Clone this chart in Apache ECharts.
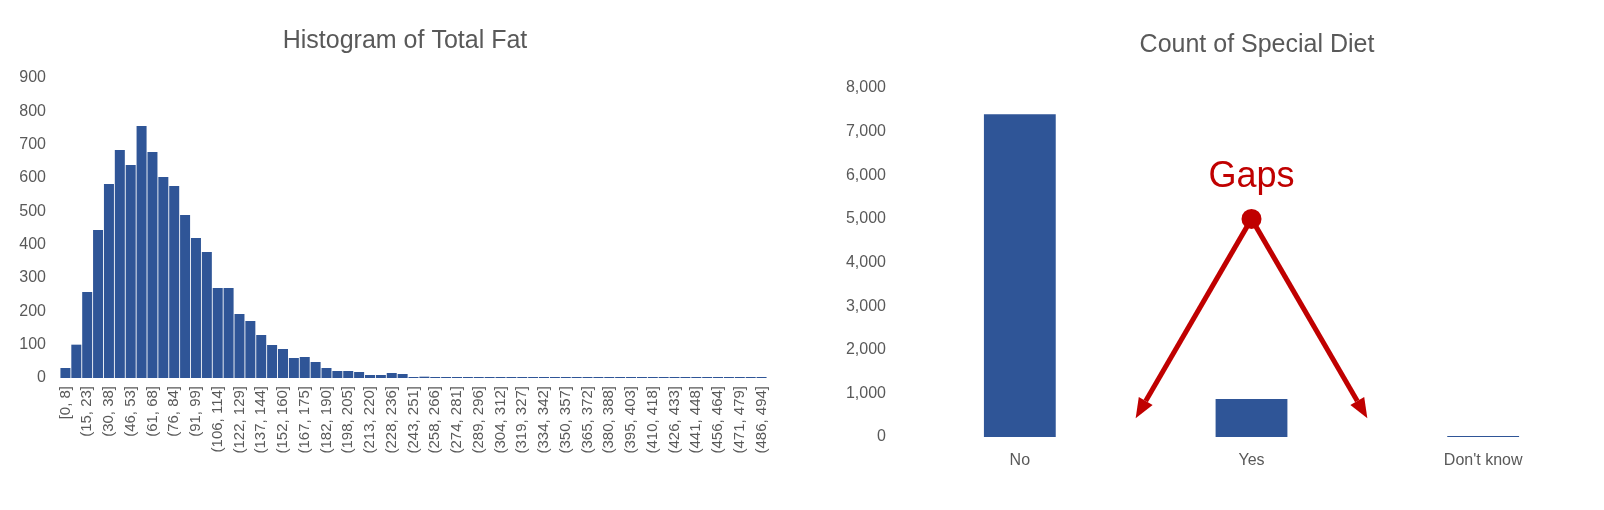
<!DOCTYPE html><html><head><meta charset="utf-8">
<script src="https://cdn.jsdelivr.net/npm/echarts@6/dist/echarts.min.js"></script>
<style>html,body{margin:0;padding:0;background:#fff}#c{width:1604px;height:510px}</style></head><body><div id="c"></div>
<script>
const binEdges=[0,8,15,23,30,38,46,53,61,68,76,84,91,99,106,114,122,129,137,144,152,160,167,175,182,190,198,205,213,220,228,236,243,251,258,266,274,281,289,296,304,312,319,327,334,342,350,357,365,372,380,388,395,403,410,418,426,433,441,448,456,464,471,479,486,494];
const fatCounts=[30,100,258,444,582,684,639,756,678,603,576,489,420,378,270,270,192,171,129,99,87,60,63,48,30,21,21,18,9,9,15,12,3,4,2,2,1,2,1,2,1,1,1,1,1,1,1,1,1,1,1,1,1,1,1,1,1,1,1,1,1,1,1,1,1];
const dietCats=['No','Yes',"Don't know"];
const dietCounts=[7400,870,10];
const binLabels=fatCounts.map((_,i)=>(i===0?'[':'(')+binEdges[i]+', '+binEdges[i+1]+']');
const grey='#595959', blue='#2f5597', red='#c00000';
const chart=echarts.init(document.getElementById('c'));
chart.setOption({
 animation:false,
 title:[{text:'Histogram of Total Fat',left:400,top:24,textAlign:'center',textStyle:{fontFamily:'Liberation Sans',fontSize:25,fontWeight:'normal',color:grey}},
        {text:'Count of Special Diet',left:1252,top:28,textAlign:'center',textStyle:{fontFamily:'Liberation Sans',fontSize:25,fontWeight:'normal',color:grey}}],
 grid:[{left:60,top:78,width:707,height:300},{left:904,top:88,width:695,height:349}],
 xAxis:[{type:'category',gridIndex:0,data:binLabels,axisLine:{show:false},axisTick:{show:false},
   axisLabel:{rotate:90,interval:1,color:grey,fontFamily:'Liberation Sans',fontSize:15,margin:8}},
  {type:'category',gridIndex:1,data:dietCats,axisLine:{show:false},axisTick:{show:false},
   axisLabel:{color:grey,fontFamily:'Liberation Sans',fontSize:16,margin:16}}],
 yAxis:[{type:'value',gridIndex:0,min:0,max:900,interval:100,splitLine:{show:false},
   axisLabel:{color:grey,fontFamily:'Liberation Sans',fontSize:16,margin:14}},
  {type:'value',gridIndex:1,min:0,max:8000,interval:1000,splitLine:{show:false},
   axisLabel:{color:grey,fontFamily:'Liberation Sans',fontSize:16,margin:18}}],
 series:[{type:'bar',xAxisIndex:0,yAxisIndex:0,data:fatCounts,barCategoryGap:'8%',itemStyle:{color:blue},barMinHeight:1},
  {type:'bar',xAxisIndex:1,yAxisIndex:1,data:dietCounts,barWidth:'31%',itemStyle:{color:blue},barMinHeight:1}]
});
const p=v=>chart.convertToPixel({gridIndex:1},v);
const c=p([1,5000]), a0=p([0,0]), a1=p([1,0]), a2=p([2,0]);
const yEnd=p([1,430])[1];
const l=[(a0[0]+a1[0])/2,yEnd], r=[(a1[0]+a2[0])/2,yEnd];
function arrow(from,to){
 const ang=Math.atan2(to[1]-from[1],to[0]-from[0]);const L=20,W=8;
 const bx=to[0]-L*Math.cos(ang),by=to[1]-L*Math.sin(ang);
 return [{type:'line',shape:{x1:from[0],y1:from[1],x2:bx,y2:by},style:{stroke:red,lineWidth:5}},
  {type:'polygon',shape:{points:[to,[bx+W*Math.sin(ang),by-W*Math.cos(ang)],[bx-W*Math.sin(ang),by+W*Math.cos(ang)]]},style:{fill:red}}];
}
chart.setOption({graphic:[...arrow(c,l),...arrow(c,r),
 {type:'circle',shape:{cx:c[0],cy:c[1],r:10},style:{fill:red}},
 {type:'text',x:c[0],y:c[1]-42,style:{text:'Gaps',fill:red,font:'36px "Liberation Sans"',textAlign:'center',textVerticalAlign:'middle'}}]});
</script></body></html>
